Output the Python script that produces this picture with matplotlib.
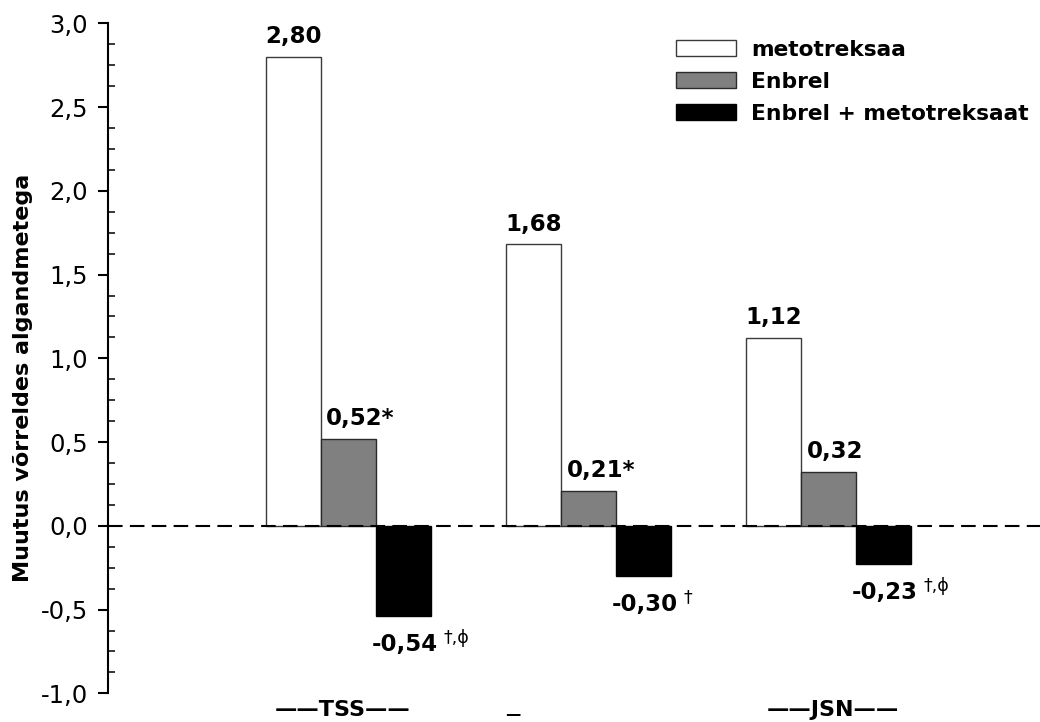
import matplotlib
matplotlib.use('Agg')
import matplotlib.pyplot as plt
import matplotlib.transforms as mtransforms
from matplotlib.ticker import FixedLocator, MultipleLocator
import numpy as np

# data
groups = ['——TSS——', '—', '——JSN——']
series_names = ['metotreksaa', 'Enbrel', 'Enbrel + metotreksaat']
metotreksaa = [2.80, 1.68, 1.12]
enbrel = [0.52, 0.21, 0.32]
combo = [-0.54, -0.30, -0.23]
lbl_metotreksaa = ['2,80', '1,68', '1,12']
lbl_enbrel = ['0,52*', '0,21*', '0,32']
lbl_combo = ['-0,54', '-0,30', '-0,23']
sup_combo = ['†,ϕ', '†', '†,ϕ']
yticks = [-1.0, -0.5, 0.0, 0.5, 1.0, 1.5, 2.0, 2.5, 3.0]
ytick_labels = ['-1,0', '-0,5', '0,0', '0,5', '1,0', '1,5', '2,0', '2,5', '3,0']
ylabel = 'Muutus võrreldes algandmetega'

plt.rcParams['font.family'] = ['DejaVu Sans']

fig = plt.figure(figsize=(10.4, 7.22), dpi=100)
ax = fig.add_axes([0.1038, 0.0397, 0.8962, 0.928])

x = np.arange(len(metotreksaa))
w = 0.229
b1 = ax.bar(x - w, metotreksaa, w, color='white', edgecolor='#3a3a3a', lw=1.0, zorder=2)
b2 = ax.bar(x, enbrel, w, color='#808080', edgecolor='#2a2a2a', lw=1.0, zorder=2)
b3 = ax.bar(x + w, combo, w, color='black', edgecolor='black', lw=1.0, zorder=2)
ax.axhline(0, color='black', lw=1.5, dashes=(7, 3.5), zorder=3)

ax.set_xlim(-1.0, 2.88)
ax.set_ylim(-1, 3)
for s in ['top', 'right', 'bottom']:
    ax.spines[s].set_visible(False)
ax.spines['left'].set_linewidth(1.5)
ax.set_xticks([])
ax.yaxis.set_major_locator(FixedLocator(yticks))
ax.set_yticklabels(ytick_labels)
ax.yaxis.set_minor_locator(MultipleLocator(0.125))
ax.tick_params(axis='y', which='major', direction='out', length=7.2, width=1.5, pad=7, labelsize=17.5)
ax.tick_params(axis='y', which='minor', direction='in', length=5, width=1.1)

# value labels
for xi, v, s in zip(x, metotreksaa, lbl_metotreksaa):
    ax.annotate(s, (xi - w, v), xytext=(0, 10), textcoords='offset points',
                ha='center', va='baseline', fontsize=16.5, fontweight='bold')
for xi, v, s in zip(x, enbrel, lbl_enbrel):
    ax.annotate(s, (xi - w / 2, v), xytext=(4, 10), textcoords='offset points',
                ha='left', va='baseline', fontsize=16.5, fontweight='bold')
for xi, v, s, sup in zip(x, combo, lbl_combo, sup_combo):
    t = ax.annotate(s, (xi + w / 2, v), xytext=(-3, -12), textcoords='offset points',
                    ha='left', va='top', fontsize=16.5, fontweight='bold')
    ax.annotate(sup, xy=(1, 1), xycoords=t, xytext=(4, 3), textcoords='offset points',
                ha='left', va='top', fontsize=12.5)

# category labels under the groups
trans = mtransforms.blended_transform_factory(ax.transData, fig.transFigure)
ax.text(-0.025, 6 / 722, groups[0], transform=trans, ha='center', va='baseline',
        fontsize=16, fontweight='bold', clip_on=False)
ax.text(0.685, 0.5 / 722, groups[1], transform=trans, ha='center', va='bottom',
        fontsize=11, fontweight='bold', clip_on=False)
ax.text(2.019, 6 / 722, groups[2], transform=trans, ha='center', va='baseline',
        fontsize=16, fontweight='bold', clip_on=False)

fig.text(0.0221, 0.4765, ylabel, rotation=90, ha='center', va='center',
         fontsize=16, fontweight='bold')

ax.legend([b1, b2, b3], series_names, loc='upper left', bbox_to_anchor=(0.65, 0.945),
          bbox_transform=fig.transFigure, frameon=False,
          prop={'size': 15.7, 'weight': 'bold'}, handlelength=2.75, handleheight=0.78,
          handletextpad=0.69, labelspacing=0.55, borderpad=0, borderaxespad=0)

fig.savefig('out.png', dpi=100)
